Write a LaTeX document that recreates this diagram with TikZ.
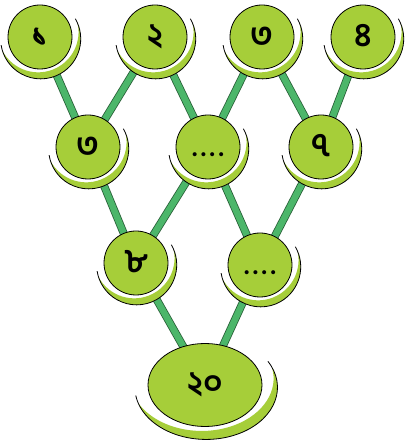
\documentclass[tikz,border=0pt]{standalone}
\usepackage{fontspec}
\newfontfamily\bn[Script=Bengali]{Hind Siliguri}
\usetikzlibrary{shapes.geometric}
\definecolor{nodegreen}{RGB}{166,206,57}
\definecolor{barfill}{RGB}{76,182,106}
\definecolor{baredge}{RGB}{40,95,55}
\pgfdeclarelayer{bg}
\pgfdeclarelayer{mid}
\pgfsetlayers{bg,mid,main}
\tikzset{
  numnode/.style={circle, minimum size=64pt, inner sep=0pt, fill=nodegreen, draw=black, line width=0.8pt,
    font=\bn\bfseries\fontsize{33}{33}\selectfont, text height=19pt, text depth=0pt},
  rootnode/.style={numnode, ellipse, minimum width=114pt, minimum height=83pt},
  bar/.style={draw=baredge, line width=0.8pt, double=barfill, double distance=6.4pt},
  moonfill/.style={fill=nodegreen},
  moonline/.style={draw=black, line width=0.8pt},
}
\newcommand\moonshade[3]{%
  \begin{scope}[shift={(#1)}, xscale=#2, yscale=#3]
    \fill[white] (37.59,13.68) arc[start angle=22.8, end angle=-162.8, radius=40.05] -- cycle;
    \fill[moonfill] (37.59,13.68) arc[start angle=22.8, end angle=-162.8, radius=40.05]
      arc[start angle=207.6, end angle=372.4, radius=40.36] -- cycle;
    \draw[moonline] ([shift={(30:40.05)}]0.667,-1.833) arc[start angle=30, end angle=-171, radius=40.05];
  \end{scope}}
\newcommand\dotrow{{\fontsize{26}{26}\selectfont .\kern3pt.\kern3pt.\kern3pt.}}
\begin{document}
\begin{tikzpicture}[x=1pt,y=1pt]
\useasboundingbox (0,0) rectangle (405,445);
\node[numnode] (A1) at (40,408) {১};
\node[numnode] (A2) at (155,408) {২};
\node[numnode] (A3) at (262,408) {৩};
\node[numnode] (A4) at (363,408) {৪};
\node[numnode] (B1) at (88,298) {৩};
\node[numnode] (B2) at (208,298) {\dotrow};
\node[numnode] (B3) at (321,298) {৭};
\node[numnode] (C1) at (136,182) {৮};
\node[numnode] (C2) at (260,180) {\dotrow};
\node[rootnode] (D) at (205,60) {২০};
\begin{pgfonlayer}{bg}
  \foreach \u/\v in {A1/B1, A2/B1, A2/B2, A3/B2, A3/B3, A4/B3, B1/C1, B2/C1, B2/C2, B3/C2, C1/D, C2/D}
    \draw[bar] (\u.center) -- (\v.center);
\end{pgfonlayer}
\begin{pgfonlayer}{mid}
  \foreach \n in {A1,A2,A3,A4,B1,B2,B3,C1,C2}
    \moonshade{\n}{1}{1};
  \moonshade{D}{1.78}{1.30}
\end{pgfonlayer}
\end{tikzpicture}
\end{document}
